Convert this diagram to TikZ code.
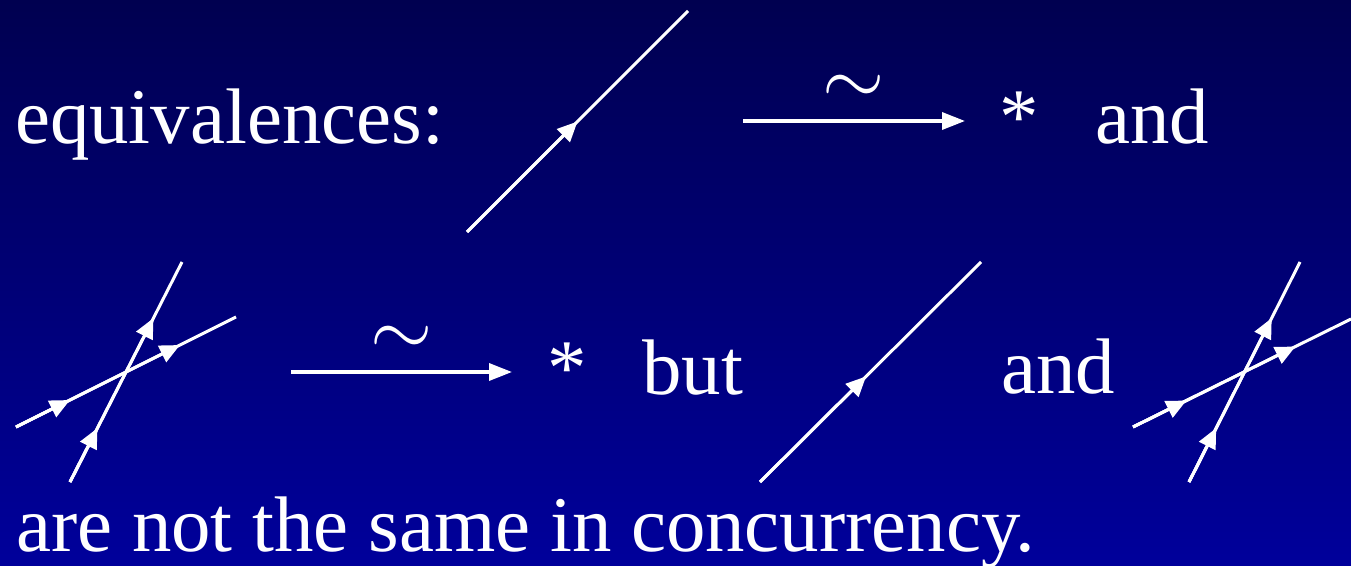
\documentclass[tikz,border=0pt]{standalone}
\usepackage{graphicx}
\usepackage{fontspec}
\setmainfont{Liberation Serif}
\usetikzlibrary{arrows.meta,calc}
\definecolor{bgtop}{RGB}{0,0,80}
\definecolor{bgbot}{RGB}{0,0,155}
\tikzset{
  txt/.style={text=white, inner sep=0pt, anchor=base west, font=\fontsize{78.8}{90}\selectfont},
  tld/.style={text=white, inner sep=0pt},
  strand/.style={draw=white, line width=3pt},
  headtip/.style={draw=white, line width=3pt, -{Triangle[length=20pt,width=18pt]}},
  reduce/.style={draw=white, line width=3.5pt, -{Triangle[length=23pt,width=17pt]}}
}
\begin{document}
\begin{tikzpicture}[x=1pt,y=-1pt]
\useasboundingbox (0,0) rectangle (1351,565);
\shade[top color=bgtop, bottom color=bgbot] (0,0) rectangle (1351,565);

% line 1
\node[txt] (eq) at (15,143) {equivalences:};
\coordinate (s1a) at (467,232);
\coordinate (s1b) at (688,11);
\draw[strand] (s1a) -- (s1b);
\draw[headtip] (s1a) -- ($(s1a)!0.5!(s1b)$);
\coordinate (r1a) at (743,121);
\coordinate (r1b) at (965,121);
\draw[reduce] (r1a) -- (r1b);
\node[tld] (t1) at (853.5,90) {\scalebox{8}{$\sim$}};
\node[txt] (st1) at (999,143) {*};
\node[txt] (and1) at (1095,143) {and};

% line 2, first crossing
\coordinate (c1a) at (70,482);
\coordinate (c1b) at (182,262);
\coordinate (c1c) at (16,427);
\coordinate (c1d) at (236,317);
\draw[strand] (c1a) -- (c1b);
\draw[strand] (c1c) -- (c1d);
\draw[headtip] (c1a) -- ($(c1a)!0.245!(c1b)$);
\draw[headtip] (c1a) -- ($(c1a)!0.745!(c1b)$);
\draw[headtip] (c1c) -- ($(c1c)!0.245!(c1d)$);
\draw[headtip] (c1c) -- ($(c1c)!0.745!(c1d)$);
\coordinate (r2a) at (291,372);
\coordinate (r2b) at (512,372);
\draw[reduce] (r2a) -- (r2b);
\node[tld] (t2) at (401.5,341) {\scalebox{8}{$\sim$}};
\node[txt] (st2) at (547,394) {*};
\node[txt] (but) at (642,394) {but};
\coordinate (s2a) at (760,482);
\coordinate (s2b) at (981,262);
\draw[strand] (s2a) -- (s2b);
\draw[headtip] (s2a) -- ($(s2a)!0.48!(s2b)$);
\node[txt] (and2) at (1001,393) {and};
\coordinate (c2a) at (1189,482);
\coordinate (c2b) at (1300,262);
\coordinate (c2c) at (1133,427);
\coordinate (c2d) at (1351,319);
\draw[strand] (c2a) -- (c2b);
\draw[strand] (c2c) -- (c2d);
\draw[headtip] (c2a) -- ($(c2a)!0.245!(c2b)$);
\draw[headtip] (c2a) -- ($(c2a)!0.745!(c2b)$);
\draw[headtip] (c2c) -- ($(c2c)!0.245!(c2d)$);
\draw[headtip] (c2c) -- ($(c2c)!0.745!(c2d)$);

% line 3
\node[txt] (last) at (16,551) {are not the same in concurrency.};
\end{tikzpicture}
\end{document}
